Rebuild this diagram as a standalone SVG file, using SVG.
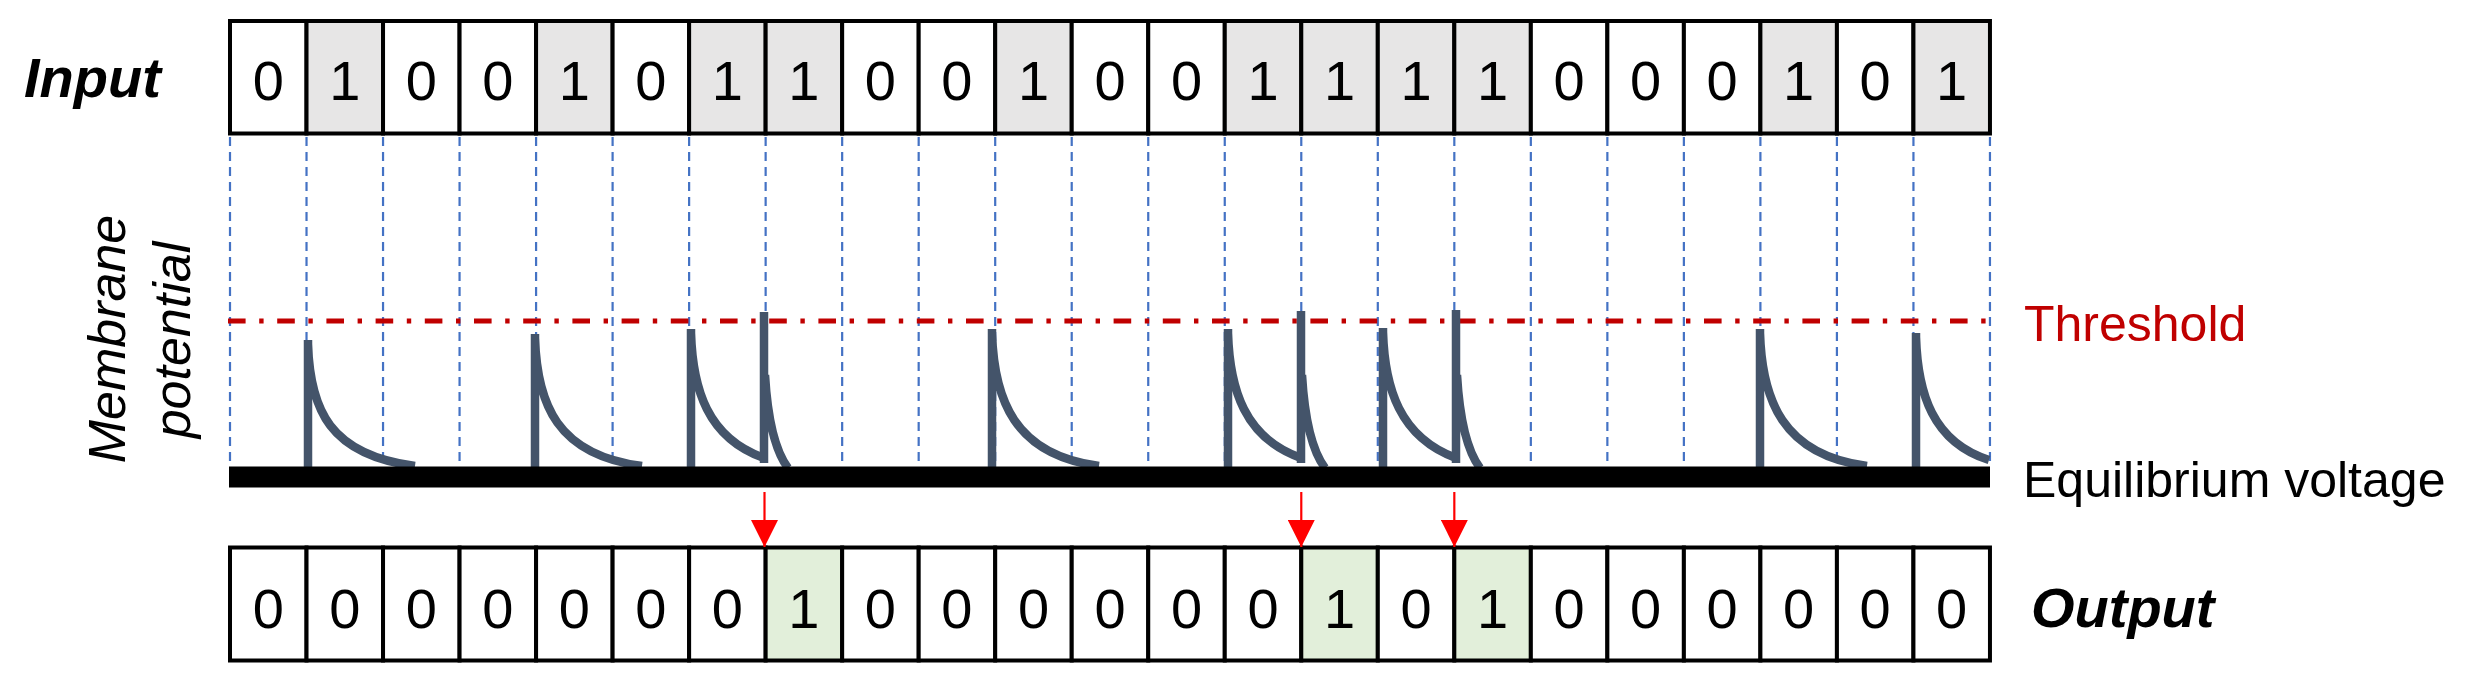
<svg xmlns="http://www.w3.org/2000/svg" width="2472" height="682" viewBox="0 0 2472 682">
<style>
  .cell { stroke: #000; stroke-width: 4; }
  .c0 { fill: #FFFFFF; }
  .cin { fill: #E7E6E6; }
  .cout { fill: #E2EFDA; }
  .dig { font-family: "Liberation Sans", Arial, sans-serif; font-size: 56px; fill: #000; text-anchor: middle; }
  .lbl { font-family: "Liberation Sans", Arial, sans-serif; font-size: 56px; font-weight: bold; font-style: italic; fill: #000; }
  .mp { font-family: "Liberation Sans", Arial, sans-serif; font-size: 52px; font-style: italic; fill: #000; text-anchor: middle; }
  .side { font-family: "Liberation Sans", Arial, sans-serif; font-size: 50px; }
  .grid line { stroke: #4472C4; stroke-width: 2.2; stroke-dasharray: 9 6; }
  .thr { stroke: #C00000; stroke-width: 5; stroke-dasharray: 17.6 13.6 4.4 13.6; fill: none; }
  .mem { stroke: #44546A; stroke-width: 8.5; fill: none; stroke-linecap: butt; }
  .arr { stroke: #FF0000; stroke-width: 2.2; fill: none; marker-end: url(#ah); }
</style>
<defs>
  <marker id="ah" markerUnits="userSpaceOnUse" markerWidth="27" markerHeight="27" refX="27" refY="13.5" orient="auto">
    <path d="M0,0 L27,13.5 L0,27 z" fill="#FF0000"/>
  </marker>
</defs>
<rect width="2472" height="682" fill="#FFFFFF"/>

<!-- labels -->
<g id="label-input"><text class="lbl" x="24" y="97">Input</text></g>
<g id="label-output"><text class="lbl" x="2031" y="627">Output</text></g>
<g id="label-membrane">
  <text class="mp" transform="translate(125,339) rotate(-90)">Membrane</text>
  <text class="mp" transform="translate(190,340) rotate(-90)">potential</text>
</g>
<g id="label-threshold"><text class="side" x="2024" y="341" fill="#C00000">Threshold</text></g>
<g id="label-equilibrium"><text class="side" x="2023" y="497" fill="#000">Equilibrium voltage</text></g>

<!-- vertical dashed grid -->
<g id="grid" class="grid">
  <line x1="230" y1="137" x2="230" y2="466"/>
  <line x1="306.52" y1="137" x2="306.52" y2="466"/>
  <line x1="383.04" y1="137" x2="383.04" y2="466"/>
  <line x1="459.56" y1="137" x2="459.56" y2="466"/>
  <line x1="536.08" y1="137" x2="536.08" y2="466"/>
  <line x1="612.6" y1="137" x2="612.6" y2="466"/>
  <line x1="689.12" y1="137" x2="689.12" y2="466"/>
  <line x1="765.64" y1="137" x2="765.64" y2="466"/>
  <line x1="842.16" y1="137" x2="842.16" y2="466"/>
  <line x1="918.68" y1="137" x2="918.68" y2="466"/>
  <line x1="995.2" y1="137" x2="995.2" y2="466"/>
  <line x1="1071.72" y1="137" x2="1071.72" y2="466"/>
  <line x1="1148.24" y1="137" x2="1148.24" y2="466"/>
  <line x1="1224.76" y1="137" x2="1224.76" y2="466"/>
  <line x1="1301.28" y1="137" x2="1301.28" y2="466"/>
  <line x1="1377.8" y1="137" x2="1377.8" y2="466"/>
  <line x1="1454.32" y1="137" x2="1454.32" y2="466"/>
  <line x1="1530.84" y1="137" x2="1530.84" y2="466"/>
  <line x1="1607.36" y1="137" x2="1607.36" y2="466"/>
  <line x1="1683.88" y1="137" x2="1683.88" y2="466"/>
  <line x1="1760.4" y1="137" x2="1760.4" y2="466"/>
  <line x1="1836.92" y1="137" x2="1836.92" y2="466"/>
  <line x1="1913.44" y1="137" x2="1913.44" y2="466"/>
  <line x1="1989.96" y1="137" x2="1989.96" y2="466"/>
</g>

<!-- threshold -->
<g id="threshold"><line class="thr" x1="228" y1="321" x2="1990" y2="321"/></g>

<!-- membrane potential trace -->
<g id="membrane" class="mem">
  <path d="M308,468 V340 M308,344 C310,410 330,455 415,466"/>
  <path d="M535,468 V334 M535,338 C537,404 557,455 642,466"/>
  <path d="M691,468 V329 M691,333 C692.7,389 707.4,438 764,458"/>
  <path d="M764,463 V312 M765,375 C768,425 776,452 788,468"/>
  <path d="M992,468 V329 M992,333 C994,399 1014,455 1099,466"/>
  <path d="M1228,468 V329 M1228,333 C1229.7,389 1244.4,438 1301,458"/>
  <path d="M1301,463 V311 M1302,375 C1305,425 1313,452 1325,468"/>
  <path d="M1383,468 V328 M1383,332 C1384.7,388 1399.4,437 1456,458"/>
  <path d="M1456,463 V310 M1457,375 C1460,425 1468,452 1480,468"/>
  <path d="M1760,468 V329 M1760,333 C1762,399 1782,455 1867,466"/>
  <path d="M1916,468 V333 M1916,337 C1917.7,393 1932.4,442 1989,460"/>
</g>

<!-- equilibrium bar -->
<g id="equilibrium-bar"><rect x="229" y="466.5" width="1761" height="21" fill="#000"/></g>

<!-- input cells -->
<g id="input-row">
  <g id="in-0"><rect class="cell c0" x="230" y="21" width="76.52" height="112.5"/><text class="dig" x="268.26" y="99.5">0</text></g>
  <g id="in-1"><rect class="cell cin" x="306.52" y="21" width="76.52" height="112.5"/><text class="dig" x="344.78" y="99.5">1</text></g>
  <g id="in-2"><rect class="cell c0" x="383.04" y="21" width="76.52" height="112.5"/><text class="dig" x="421.3" y="99.5">0</text></g>
  <g id="in-3"><rect class="cell c0" x="459.56" y="21" width="76.52" height="112.5"/><text class="dig" x="497.82" y="99.5">0</text></g>
  <g id="in-4"><rect class="cell cin" x="536.08" y="21" width="76.52" height="112.5"/><text class="dig" x="574.34" y="99.5">1</text></g>
  <g id="in-5"><rect class="cell c0" x="612.6" y="21" width="76.52" height="112.5"/><text class="dig" x="650.86" y="99.5">0</text></g>
  <g id="in-6"><rect class="cell cin" x="689.12" y="21" width="76.52" height="112.5"/><text class="dig" x="727.38" y="99.5">1</text></g>
  <g id="in-7"><rect class="cell cin" x="765.64" y="21" width="76.52" height="112.5"/><text class="dig" x="803.9" y="99.5">1</text></g>
  <g id="in-8"><rect class="cell c0" x="842.16" y="21" width="76.52" height="112.5"/><text class="dig" x="880.42" y="99.5">0</text></g>
  <g id="in-9"><rect class="cell c0" x="918.68" y="21" width="76.52" height="112.5"/><text class="dig" x="956.94" y="99.5">0</text></g>
  <g id="in-10"><rect class="cell cin" x="995.2" y="21" width="76.52" height="112.5"/><text class="dig" x="1033.46" y="99.5">1</text></g>
  <g id="in-11"><rect class="cell c0" x="1071.72" y="21" width="76.52" height="112.5"/><text class="dig" x="1109.98" y="99.5">0</text></g>
  <g id="in-12"><rect class="cell c0" x="1148.24" y="21" width="76.52" height="112.5"/><text class="dig" x="1186.5" y="99.5">0</text></g>
  <g id="in-13"><rect class="cell cin" x="1224.76" y="21" width="76.52" height="112.5"/><text class="dig" x="1263.02" y="99.5">1</text></g>
  <g id="in-14"><rect class="cell cin" x="1301.28" y="21" width="76.52" height="112.5"/><text class="dig" x="1339.54" y="99.5">1</text></g>
  <g id="in-15"><rect class="cell cin" x="1377.8" y="21" width="76.52" height="112.5"/><text class="dig" x="1416.06" y="99.5">1</text></g>
  <g id="in-16"><rect class="cell cin" x="1454.32" y="21" width="76.52" height="112.5"/><text class="dig" x="1492.58" y="99.5">1</text></g>
  <g id="in-17"><rect class="cell c0" x="1530.84" y="21" width="76.52" height="112.5"/><text class="dig" x="1569.1" y="99.5">0</text></g>
  <g id="in-18"><rect class="cell c0" x="1607.36" y="21" width="76.52" height="112.5"/><text class="dig" x="1645.62" y="99.5">0</text></g>
  <g id="in-19"><rect class="cell c0" x="1683.88" y="21" width="76.52" height="112.5"/><text class="dig" x="1722.14" y="99.5">0</text></g>
  <g id="in-20"><rect class="cell cin" x="1760.4" y="21" width="76.52" height="112.5"/><text class="dig" x="1798.66" y="99.5">1</text></g>
  <g id="in-21"><rect class="cell c0" x="1836.92" y="21" width="76.52" height="112.5"/><text class="dig" x="1875.18" y="99.5">0</text></g>
  <g id="in-22"><rect class="cell cin" x="1913.44" y="21" width="76.52" height="112.5"/><text class="dig" x="1951.7" y="99.5">1</text></g>
</g>

<!-- output cells -->
<g id="output-row">
  <g id="out-0"><rect class="cell c0" x="230" y="547.5" width="76.52" height="113"/><text class="dig" x="268.26" y="627.5">0</text></g>
  <g id="out-1"><rect class="cell c0" x="306.52" y="547.5" width="76.52" height="113"/><text class="dig" x="344.78" y="627.5">0</text></g>
  <g id="out-2"><rect class="cell c0" x="383.04" y="547.5" width="76.52" height="113"/><text class="dig" x="421.3" y="627.5">0</text></g>
  <g id="out-3"><rect class="cell c0" x="459.56" y="547.5" width="76.52" height="113"/><text class="dig" x="497.82" y="627.5">0</text></g>
  <g id="out-4"><rect class="cell c0" x="536.08" y="547.5" width="76.52" height="113"/><text class="dig" x="574.34" y="627.5">0</text></g>
  <g id="out-5"><rect class="cell c0" x="612.6" y="547.5" width="76.52" height="113"/><text class="dig" x="650.86" y="627.5">0</text></g>
  <g id="out-6"><rect class="cell c0" x="689.12" y="547.5" width="76.52" height="113"/><text class="dig" x="727.38" y="627.5">0</text></g>
  <g id="out-7"><rect class="cell cout" x="765.64" y="547.5" width="76.52" height="113"/><text class="dig" x="803.9" y="627.5">1</text></g>
  <g id="out-8"><rect class="cell c0" x="842.16" y="547.5" width="76.52" height="113"/><text class="dig" x="880.42" y="627.5">0</text></g>
  <g id="out-9"><rect class="cell c0" x="918.68" y="547.5" width="76.52" height="113"/><text class="dig" x="956.94" y="627.5">0</text></g>
  <g id="out-10"><rect class="cell c0" x="995.2" y="547.5" width="76.52" height="113"/><text class="dig" x="1033.46" y="627.5">0</text></g>
  <g id="out-11"><rect class="cell c0" x="1071.72" y="547.5" width="76.52" height="113"/><text class="dig" x="1109.98" y="627.5">0</text></g>
  <g id="out-12"><rect class="cell c0" x="1148.24" y="547.5" width="76.52" height="113"/><text class="dig" x="1186.5" y="627.5">0</text></g>
  <g id="out-13"><rect class="cell c0" x="1224.76" y="547.5" width="76.52" height="113"/><text class="dig" x="1263.02" y="627.5">0</text></g>
  <g id="out-14"><rect class="cell cout" x="1301.28" y="547.5" width="76.52" height="113"/><text class="dig" x="1339.54" y="627.5">1</text></g>
  <g id="out-15"><rect class="cell c0" x="1377.8" y="547.5" width="76.52" height="113"/><text class="dig" x="1416.06" y="627.5">0</text></g>
  <g id="out-16"><rect class="cell cout" x="1454.32" y="547.5" width="76.52" height="113"/><text class="dig" x="1492.58" y="627.5">1</text></g>
  <g id="out-17"><rect class="cell c0" x="1530.84" y="547.5" width="76.52" height="113"/><text class="dig" x="1569.1" y="627.5">0</text></g>
  <g id="out-18"><rect class="cell c0" x="1607.36" y="547.5" width="76.52" height="113"/><text class="dig" x="1645.62" y="627.5">0</text></g>
  <g id="out-19"><rect class="cell c0" x="1683.88" y="547.5" width="76.52" height="113"/><text class="dig" x="1722.14" y="627.5">0</text></g>
  <g id="out-20"><rect class="cell c0" x="1760.4" y="547.5" width="76.52" height="113"/><text class="dig" x="1798.66" y="627.5">0</text></g>
  <g id="out-21"><rect class="cell c0" x="1836.92" y="547.5" width="76.52" height="113"/><text class="dig" x="1875.18" y="627.5">0</text></g>
  <g id="out-22"><rect class="cell c0" x="1913.44" y="547.5" width="76.52" height="113"/><text class="dig" x="1951.7" y="627.5">0</text></g>
</g>

<!-- connectors: firing arrows -->
<g id="connectors">
  <path class="arr" d="M764.5,492 V547"/>
  <path class="arr" d="M1301.28,492 V547"/>
  <path class="arr" d="M1454.32,492 V547"/>
</g>
</svg>
